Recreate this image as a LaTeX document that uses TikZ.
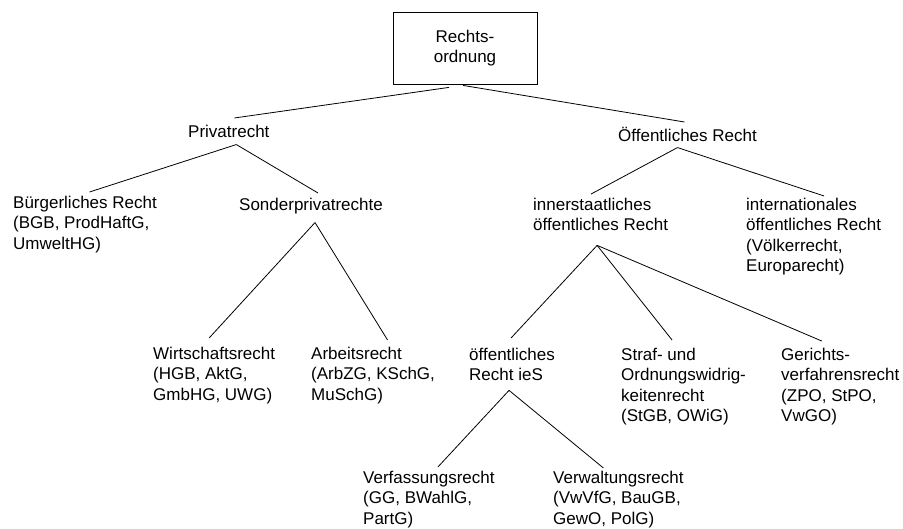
\documentclass[tikz,border=0pt]{standalone}
\usepackage{fontspec}
\setmainfont{Liberation Sans}
\usetikzlibrary{calc}
\begin{document}
\begin{tikzpicture}[x=1pt,y=-1pt,
  lbl/.style={anchor=north west, inner sep=0pt, align=left,
    font=\fontsize{17}{20.5}\selectfont,
    execute at begin node=\strut, execute at end node=\strut},
  rootbox/.style={draw, line width=0.8pt, inner sep=0pt, align=center,
    minimum width=144pt, minimum height=72pt,
    font=\fontsize{17}{20.5}\selectfont},
  link/.style={line width=0.8pt}]
\useasboundingbox (0,0) rectangle (903,528);

\node[rootbox] (root) at (465,48) {Rechts-\\ordnung};

\node[lbl] (priv)    at (188,122.65) {Privatrecht};
\node[lbl] (oeff)    at (618,126.65) {Öffentliches Recht};
\node[lbl] (buerg)   at (13,195.65)  {Bürgerliches Recht\\(BGB, ProdHaftG,\\UmweltHG)};
\node[lbl] (sonder)  at (239,195.65) {Sonderprivatrechte};
\node[lbl] (innerst) at (533,197.65) {innerstaatliches\\öffentliches Recht};
\node[lbl] (intl)    at (746,197.65) {internationales\\öffentliches Recht\\(Völkerrecht,\\Europarecht)};
\node[lbl] (wirt)    at (153,346.65) {Wirtschaftsrecht\\(HGB, AktG,\\GmbHG, UWG)};
\node[lbl] (arb)     at (311,346.65) {Arbeitsrecht\\(ArbZG, KSchG,\\MuSchG)};
\node[lbl] (oies)    at (469,347.65) {öffentliches\\Recht ieS};
\node[lbl] (straf)   at (621,347.65) {Straf- und\\Ordnungswidrig-\\keitenrecht\\(StGB, OWiG)};
\node[lbl] (ger)     at (781,347.65) {Gerichts-\\verfahrensrecht\\(ZPO, StPO,\\VwGO)};
\node[lbl] (verf)    at (363,470.65) {Verfassungsrecht\\(GG, BWahlG,\\PartG)};
\node[lbl] (verw)    at (553,470.65) {Verwaltungsrecht\\(VwVfG, BauGB,\\GewO, PolG)};

\draw[link] ($(root.south)+(-16,3)$) -- ($(priv.north)+(5.5,-4.65)$);
\draw[link] ($(root.south)+(-2,1)$) -- ($(oeff.north)+(-3,-4.65)$);

\draw[link] ($(priv.south)+(7.5,1)$) -- ($(buerg.north)+(4.5,-3.65)$);
\draw[link] ($(priv.south)+(7.5,1)$) -- ($(sonder.north)+(7,-2.65)$);

\draw[link] ($(oeff.south)+(-10,0)$) -- ($(innerst.north)+(-9.5,-3.65)$);
\draw[link] ($(oeff.south)+(-10,0)$) -- ($(intl.north)+(10.5,-1.65)$);

\draw[link] ($(sonder.south)+(4,6)$) -- ($(wirt.north)+(-5,-8.65)$);
\draw[link] ($(sonder.south)+(4,6)$) -- ($(arb.north)+(14.5,-6.65)$);

\draw[link] ($(innerst.south)+(-3.5,8.35)$) -- ($(oies.north)+(-1,-9.65)$);
\draw[link] ($(innerst.south)+(-3.5,8.35)$) -- ($(straf.north)+(-11.5,-7.65)$);
\draw[link] ($(innerst.south)+(-3.5,8.35)$) -- ($(ger.north)+(-18.5,-6.65)$);

\draw[link] ($(oies.south)+(-3,3.35)$) -- ($(verf.north)+(9,-3.65)$);
\draw[link] ($(oies.south)+(-3,3.35)$) -- ($(verw.north)+(-15,-2.65)$);
\end{tikzpicture}
\end{document}
